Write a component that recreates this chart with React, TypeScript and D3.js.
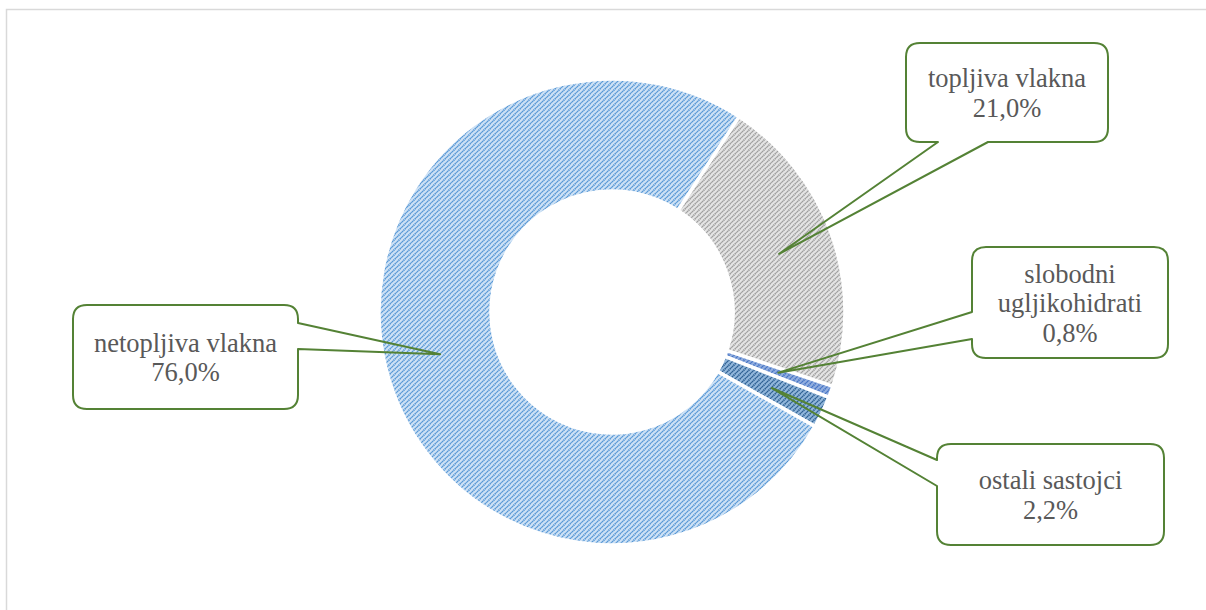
import React from "react";
import * as d3 from "d3";

const categories = ["topljiva vlakna", "slobodni ugljikohidrati", "ostali sastojci", "netopljiva vlakna"];
const values = [21.0, 0.8, 2.2, 76.0];
const labelLines = [
  ["topljiva vlakna", "21,0%"],
  ["slobodni", "ugljikohidrati", "0,8%"],
  ["ostali sastojci", "2,2%"],
  ["netopljiva vlakna", "76,0%"],
];

const W = 1206;
const H = 610;
const CX = 612;
const CY = 312;
const R_OUT = 233;
const R_IN = 121;
const START_DEG = 33;

const patterns = [
  { id: "pGray", bg: "#e6e6e6", fg: "#9e9e9e" },
  { id: "pSlob", bg: "#93b0e0", fg: "#4472c4" },
  { id: "pOst", bg: "#93b8dc", fg: "#2c5f92" },
  { id: "pBlue", bg: "#d0e3f6", fg: "#5697d5" },
];

type Box = { x: number; y: number; w: number; h: number; side: string; a: number; b: number };
const boxes: Box[] = [
  { x: 906, y: 43, w: 202, h: 99, side: "bottom", a: 988, b: 938 },
  { x: 972, y: 247, w: 196, h: 111, side: "left", a: 339, b: 312 },
  { x: 937, y: 444, w: 227, h: 101, side: "left", a: 486, b: 460 },
  { x: 73, y: 305, w: 225, h: 104, side: "right", a: 323, b: 349 },
];

function calloutPath(bx: Box, tip: [number, number]): string {
  const r = 14;
  const { x, y, w, h } = bx;
  const x2 = x + w;
  const y2 = y + h;
  const p = d3.path();
  p.moveTo(x + r, y);
  p.lineTo(x2 - r, y);
  p.quadraticCurveTo(x2, y, x2, y + r);
  if (bx.side === "right") {
    p.lineTo(x2, bx.a);
    p.lineTo(tip[0], tip[1]);
    p.lineTo(x2, bx.b);
  }
  p.lineTo(x2, y2 - r);
  p.quadraticCurveTo(x2, y2, x2 - r, y2);
  if (bx.side === "bottom") {
    p.lineTo(bx.a, y2);
    p.lineTo(tip[0], tip[1]);
    p.lineTo(bx.b, y2);
  }
  p.lineTo(x + r, y2);
  p.quadraticCurveTo(x, y2, x, y2 - r);
  if (bx.side === "left") {
    p.lineTo(x, bx.a);
    p.lineTo(tip[0], tip[1]);
    p.lineTo(x, bx.b);
  }
  p.lineTo(x, y + r);
  p.quadraticCurveTo(x, y, x + r, y);
  p.closePath();
  return p.toString();
}

export default function App() {
  const start = (START_DEG * Math.PI) / 180;
  const pie = d3
    .pie<number>()
    .sort(null)
    .startAngle(start)
    .endAngle(start + 2 * Math.PI)
    .value((d) => d);
  const arcs = pie(values);
  const arc = d3.arc<d3.PieArcDatum<number>>().innerRadius(R_IN).outerRadius(R_OUT);
  const fontSize = 26.5;
  const lh = 29.5;

  return (
    <svg
      width={W}
      height={H}
      style={{ position: "absolute", left: 0, top: 0, background: "#fff" }}
    >
      <defs>
        {patterns.map((pt) => (
          <pattern key={pt.id} id={pt.id} patternUnits="userSpaceOnUse" width={5} height={5}>
            <rect width={5} height={5} fill={pt.bg} />
            <path
              d="M0,5 L5,0 M-1,1 L1,-1 M4,6 L6,4"
              stroke={pt.fg}
              strokeWidth={1.7}
              strokeDasharray="1.4 0.6"
            />
          </pattern>
        ))}
      </defs>
      <rect x={6.5} y={9.5} width={1300} height={700} fill="none" stroke="#d9d9d9" strokeWidth={1.5} />
      <g transform={`translate(${CX},${CY})`}>
        {arcs.map((a, i) => (
          <path
            key={categories[i]}
            d={arc(a) || ""}
            fill={`url(#${patterns[i].id})`}
            stroke="#ffffff"
            strokeWidth={3.5}
          />
        ))}
      </g>
      {arcs.map((a, i) => {
        const c = arc.centroid(a);
        const tip: [number, number] = [CX + c[0], CY + c[1]];
        const bx = boxes[i];
        const lines = labelLines[i];
        const cx = bx.x + bx.w / 2;
        const cy = bx.y + bx.h / 2;
        const y0 = cy - ((lines.length - 1) * lh) / 2 + 9.5;
        return (
          <g key={"c" + i}>
            <rect x={bx.x} y={bx.y} width={bx.w} height={bx.h} rx={14} ry={14} fill="#ffffff" />
            <path d={calloutPath(bx, tip)} fill="none" stroke="#548235" strokeWidth={2} strokeLinejoin="round" />
            <text
              x={cx}
              textAnchor="middle"
              style={{ fontFamily: "Liberation Serif, DejaVu Serif, serif", fontSize: fontSize }}
              fill="#595959"
            >
              {lines.map((ln, j) => (
                <tspan key={j} x={cx} y={y0 + j * lh}>
                  {ln}
                </tspan>
              ))}
            </text>
          </g>
        );
      })}
    </svg>
  );
}
